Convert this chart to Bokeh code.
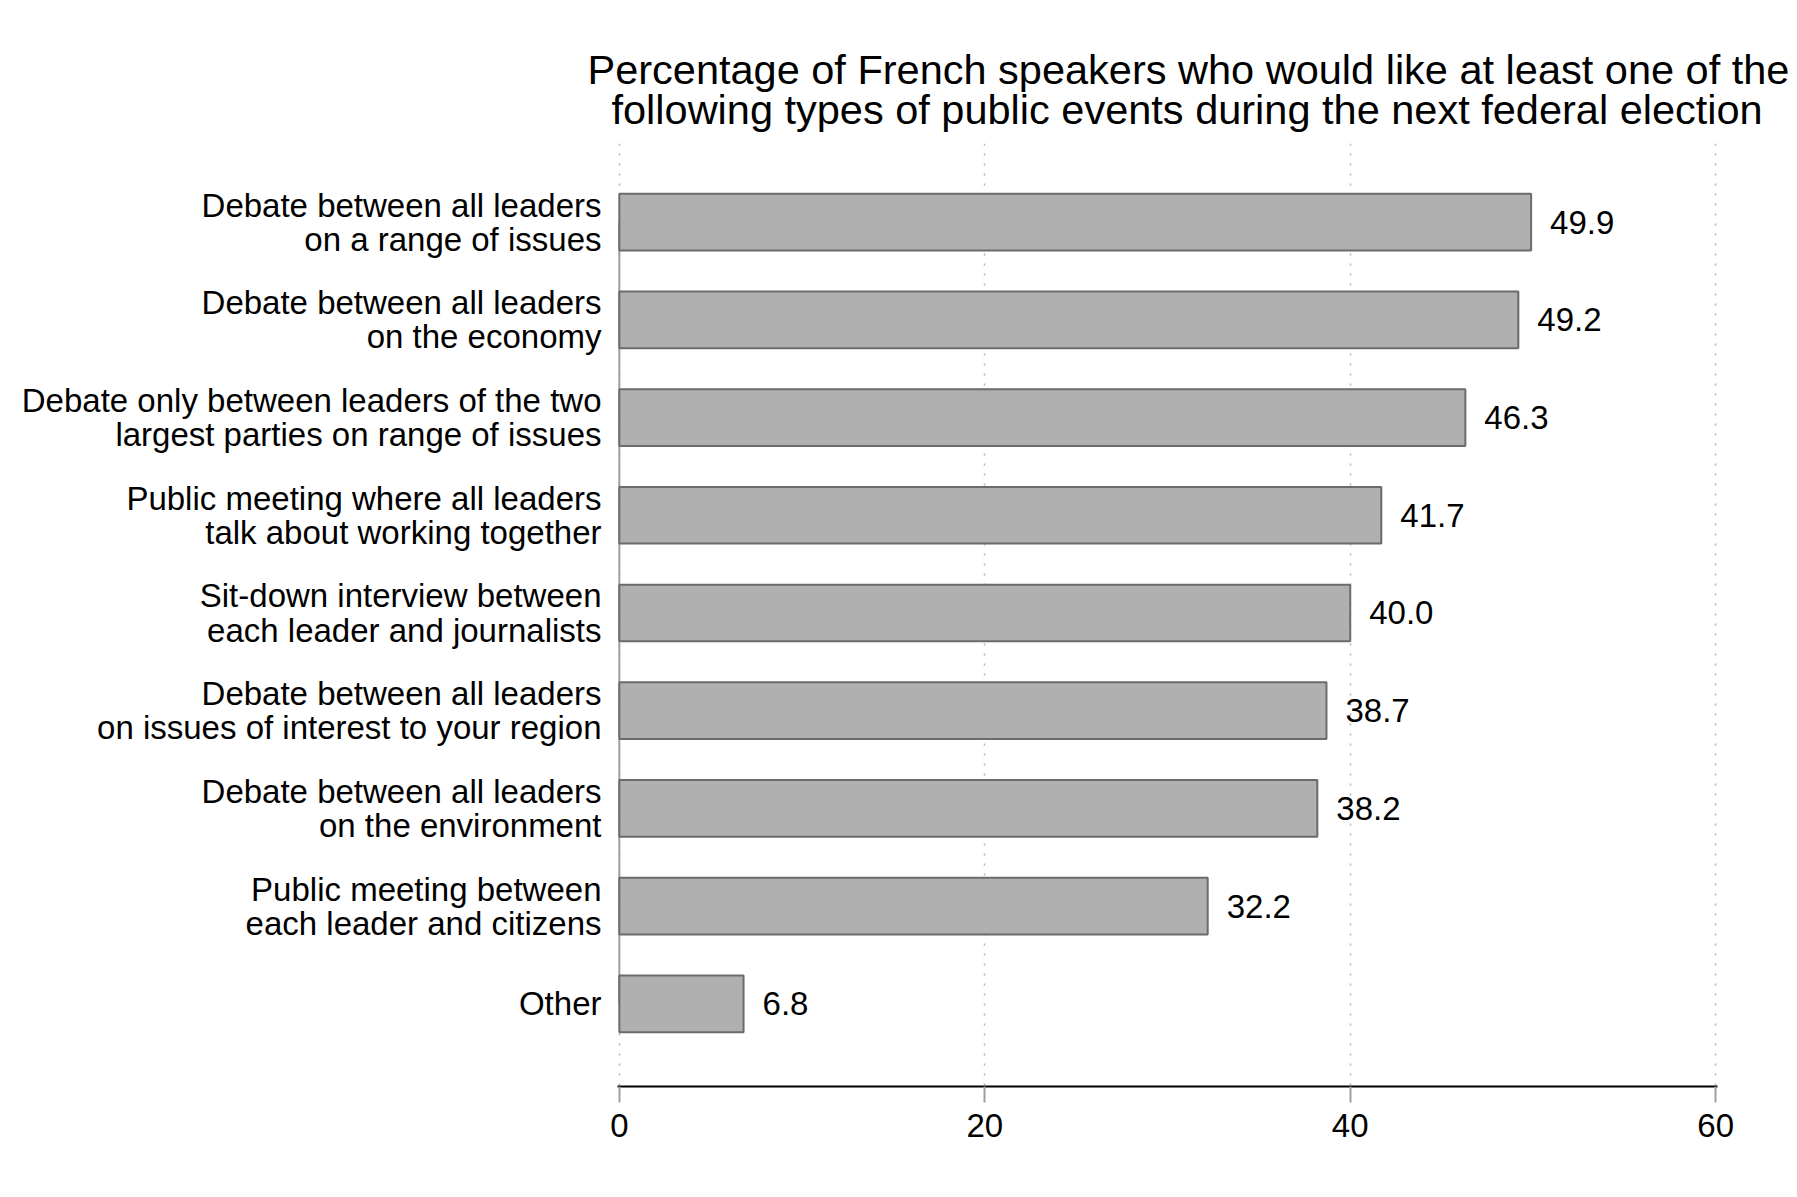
from bokeh.plotting import figure
from bokeh.models import Range1d, FixedTicker, Title, ColumnDataSource
from bokeh.embed import file_html
from bokeh.resources import INLINE
from bokeh.core.properties import value

categories = [
    "Debate between all leaders\non a range of issues",
    "Debate between all leaders\non the economy",
    "Debate only between leaders of the two\nlargest parties on range of issues",
    "Public meeting where all leaders\ntalk about working together",
    "Sit-down interview between\neach leader and journalists",
    "Debate between all leaders\non issues of interest to your region",
    "Debate between all leaders\non the environment",
    "Public meeting between\neach leader and citizens",
    "Other",
]
percentages = [49.9, 49.2, 46.3, 41.7, 40.0, 38.7, 38.2, 32.2, 6.8]
x_ticks = [0, 20, 40, 60]
title_lines = [
    "Percentage of French speakers who would like at least one of the",
    "following types of public events during the next federal election",
]

FONT = "Liberation Sans"
n = len(categories)
idx = list(range(n))

src = ColumnDataSource(dict(
    y=idx,
    v=percentages,
    lab=[f"{v:.1f}" for v in percentages],
))

p = figure(
    width=1795, height=1195,
    x_range=Range1d(-0.1, 60.1),
    y_range=Range1d(n - 1 + 0.846, -0.805),
    output_backend="svg", toolbar_location=None,
    min_border_left=617, min_border_right=78,
    min_border_top=143, min_border_bottom=109,
)
p.outline_line_color = None
p.background_fill_color = "white"
p.border_fill_color = "white"

# grid
p.xgrid.ticker = FixedTicker(ticks=x_ticks)
p.xgrid.grid_line_color = "#b4b4b4"
p.xgrid.grid_line_dash = "2 8"
p.xgrid.grid_line_width = 1.5
p.ygrid.visible = False

# y axis line (gray, from first to last category)
p.line(x=[0, 0], y=[idx[0], idx[-1]], line_color="#a0a0a0", line_width=2)

# bars
p.hbar(y="y", left=0, right="v", height=0.58, source=src,
       fill_color="#b0b0b0", line_color="#6b6b6b", line_width=2)

# value labels
p.text(x="v", y="y", text="lab", source=src, x_offset=19,
       text_baseline="middle", text_align="left",
       text_font=value(FONT), text_font_size="33px", text_color="black")

# x axis
xa = p.xaxis[0]
xa.ticker = FixedTicker(ticks=x_ticks)
xa.axis_line_color = "black"
xa.axis_line_width = 2
xa.major_tick_out = 16
xa.major_tick_in = 0
xa.major_tick_line_color = "#a0a0a0"
xa.major_tick_line_width = 2
xa.minor_tick_line_color = None
xa.major_label_standoff = 11
xa.major_label_text_font = FONT
xa.major_label_text_font_size = "33px"
xa.major_label_text_color = "black"

# y axis
ya = p.yaxis[0]
ya.ticker = FixedTicker(ticks=idx)
ya.major_label_overrides = {i: c for i, c in zip(idx, categories)}
ya.axis_line_color = None
ya.major_tick_line_color = None
ya.minor_tick_line_color = None
ya.major_tick_out = 0
ya.major_tick_in = 0
ya.major_label_standoff = 16
ya.major_label_text_font = FONT
ya.major_label_text_font_size = "33px"
ya.major_label_text_color = "black"
ya.major_label_text_line_height = 0.92

# title: two lines, second line nearest the plot
p.add_layout(Title(text=title_lines[1], align="left", offset=-6,
                   text_font=FONT, text_font_size="41.5px",
                   text_font_style="normal", text_color="black",
                   vertical_align="bottom", standoff=22), "above")
p.add_layout(Title(text=title_lines[0], align="left", offset=-30,
                   text_font=FONT, text_font_size="41.5px",
                   text_font_style="normal", text_color="black",
                   vertical_align="bottom", standoff=-40), "above")

open("out.html", "w").write(file_html(p, INLINE))
